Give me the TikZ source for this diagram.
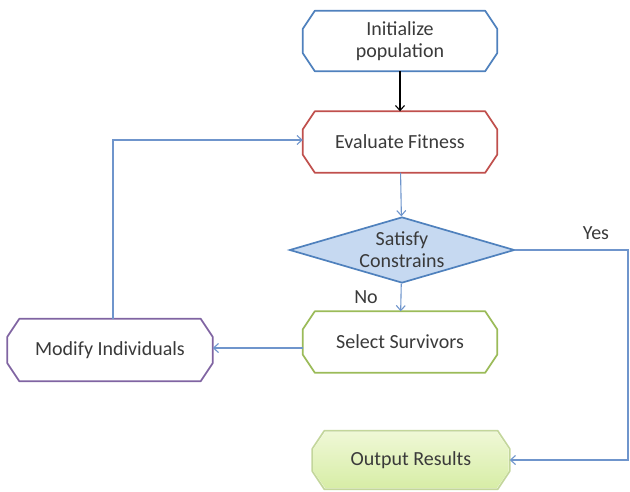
\documentclass[tikz,border=0pt]{standalone}
\usepackage{fontspec}
\setmainfont{Carlito}
\usetikzlibrary{shapes.geometric, arrows.meta, backgrounds}
\definecolor{initBlue}{HTML}{4F81BD}
\definecolor{evalRed}{HTML}{C0504D}
\definecolor{selGreen}{HTML}{9BBB59}
\definecolor{modPurple}{HTML}{8064A2}
\definecolor{outBorder}{HTML}{C3D69B}
\definecolor{outTop}{HTML}{EFF8D6}
\definecolor{outBottom}{HTML}{D7EDA6}
\definecolor{lineBlue}{HTML}{6F95CC}
\definecolor{testFill}{HTML}{C6D9F1}
\definecolor{textGray}{HTML}{3A3A3A}
\tikzstyle{stepNode}=[rectangle, minimum width=194pt, minimum height=60pt, inner sep=0pt, align=center, font=\fontsize{20}{22}\selectfont, text=textGray]
\tikzstyle{octoLine}=[line width=1.7pt, line join=round]
\tikzstyle{testNode}=[diamond, aspect=3.4, draw=initBlue, fill=testFill, line width=1.7pt, minimum width=225pt, minimum height=66pt, inner sep=0pt, align=center, font=\fontsize{20}{22}\selectfont, text=textGray]
\tikzstyle{flowLine}=[-{Straight Barb[length=5pt,width=9pt]}, line width=1.1pt, color=lineBlue]
\tikzstyle{flowLabel}=[font=\fontsize{20}{22}\selectfont, text=textGray]

\begin{document}
\begin{tikzpicture}[x=1pt, y=-1pt]
        \useasboundingbox (0,0) rectangle (630,491);

        \node[stepNode] (init) at (400, 41) {Initialize\\population};
        \node[stepNode, minimum height=61pt] (eval) at (400, 142) {Evaluate Fitness};
        \node[testNode] (test) at (402, 250) {Satisfy\\Constrains};
        \node[stepNode, minimum height=61pt] (sel) at (400, 342) {Select Survivors};
        \node[stepNode, minimum width=205pt, minimum height=62pt] (mod) at (110, 350) {Modify Individuals};
        \node[stepNode, minimum width=197pt, minimum height=58pt] (out) at (411, 460) {Output Results};

        % octagon outlines behind the texts
        \begin{scope}[on background layer]
            \foreach \n/\c in {init/initBlue, eval/evalRed, sel/selGreen, mod/modPurple, out/outBorder}
                \draw[octoLine, draw=\c, fill=white] ([xshift=12pt]\n.north west) -- ([xshift=-12pt]\n.north east) -- ([yshift=-18pt]\n.north east) -- ([yshift=18pt]\n.south east) -- ([xshift=-12pt]\n.south east) -- ([xshift=12pt]\n.south west) -- ([yshift=18pt]\n.south west) -- ([yshift=-18pt]\n.north west) -- cycle;
            \shade[top color=outTop, bottom color=outBottom] ([xshift=13pt, yshift=-1pt]out.north west) -- ([xshift=-13pt, yshift=-1pt]out.north east) -- ([xshift=-1pt, yshift=-18pt]out.north east) -- ([xshift=-1pt, yshift=18pt]out.south east) -- ([xshift=-13pt, yshift=1pt]out.south east) -- ([xshift=13pt, yshift=1pt]out.south west) -- ([xshift=1pt, yshift=18pt]out.south west) -- ([xshift=1pt, yshift=-18pt]out.north west) -- cycle;
        \end{scope}

        \node[flowLabel] (yes) at (596, 233) {Yes};
        \node[flowLabel] (no) at (366, 297) {No};
        \coordinate (yesCorner) at (628, 250);

        \draw[-{Straight Barb[length=5pt,width=9pt]}, line width=1.1pt] (init) -- (eval);
        \draw[flowLine] (eval) -- (test);
        \draw[flowLine] (test) -- (sel);
        \draw[flowLine] ([yshift=-6pt]sel.west) -- ([yshift=-6pt]sel.west -| mod.east);
        \draw[flowLine] ([xshift=3pt]mod.north) |- ([yshift=2pt]eval.west);
        \draw[flowLine] (test.east) -- (yesCorner) |- (out.east);

    \end{tikzpicture}
\end{document}
